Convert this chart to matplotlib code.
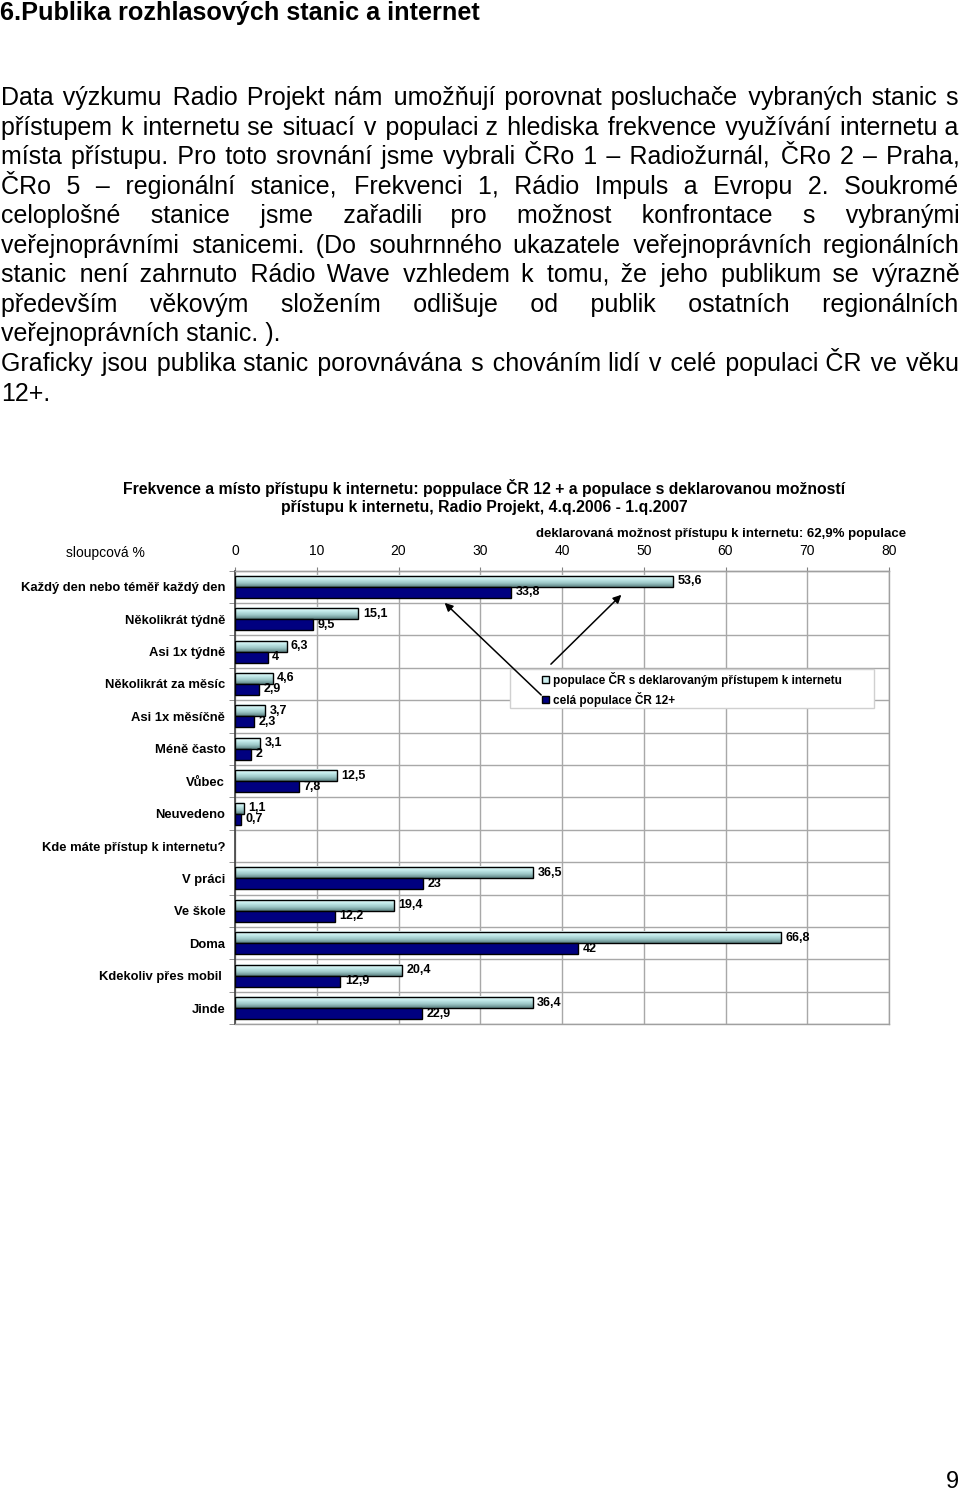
import numpy as np
import matplotlib
matplotlib.use('Agg')
import matplotlib.pyplot as plt
from matplotlib.colors import LinearSegmentedColormap
from matplotlib.patches import Rectangle, Patch

plt.rcParams['font.family'] = ['Liberation Sans', 'DejaVu Sans']

W, H = 960, 1493

# ---------------- data / texts ----------------
heading = "6.Publika rozhlasových stanic a internet"
paragraph_lines = [
    "Data výzkumu Radio Projekt nám umožňují porovnat posluchače  vybraných stanic s",
    "přístupem k internetu se situací v populaci z hlediska frekvence využívání internetu a",
    "místa přístupu. Pro toto srovnání jsme vybrali ČRo 1 – Radiožurnál, ČRo 2 – Praha,",
    "ČRo 5 – regionální stanice, Frekvenci 1, Rádio Impuls a Evropu 2. Soukromé",
    "celoplošné stanice jsme zařadili pro možnost konfrontace s\u00a0vybranými",
    "veřejnoprávními stanicemi. (Do souhrnného ukazatele veřejnoprávních regionálních",
    "stanic není zahrnuto Rádio Wave vzhledem k tomu,  že jeho publikum se výrazně",
    "především věkovým složením odlišuje od publik ostatních  regionálních",
    "veřejnoprávních stanic. ).",
    "Graficky jsou publika stanic porovnávána s chováním lidí v celé populaci ČR ve věku",
    "12+.",
]
justified = [True, True, True, True, True, True, True, True, False, True, False]

chart_title = ["Frekvence a místo přístupu k internetu: poppulace ČR 12 + a populace s deklarovanou možností",
               "přístupu k internetu, Radio Projekt, 4.q.2006 - 1.q.2007"]
subtitle = "deklarovaná možnost přístupu k internetu: 62,9% populace"
axis_caption = "sloupcová %"
x_ticks = [0, 10, 20, 30, 40, 50, 60, 70, 80]

freq_categories = ["Každý den nebo téměř každý den", "Několikrát týdně", "Asi 1x týdně",
                   "Několikrát za měsíc", "Asi 1x měsíčně", "Méně často", "Vůbec", "Neuvedeno"]
freq_internet = [53.6, 15.1, 6.3, 4.6, 3.7, 3.1, 12.5, 1.1]
freq_all = [33.8, 9.5, 4, 2.9, 2.3, 2, 7.8, 0.7]

access_header = "Kde máte přístup k internetu?"
access_categories = ["V práci", "Ve škole", "Doma", "Kdekoliv přes mobil ", "Jinde"]
access_internet = [36.5, 19.4, 66.8, 20.4, 36.4]
access_all = [23, 12.2, 42, 12.9, 22.9]

series_names = ["populace ČR s deklarovaným přístupem k internetu", "celá populace ČR 12+"]
page_number = "9"

# ---------------- figure ----------------
fig = plt.figure(figsize=(W / 100, H / 100), dpi=100)
fig.patch.set_facecolor('white')
renderer = fig.canvas.get_renderer()


def fx(px):
    return px / W


def fy(py):
    return 1 - py / H


def text_width(s, fs):
    t = fig.text(0, 0, s, fontsize=fs)
    w = t.get_window_extent(renderer).width
    t.remove()
    return w


# heading
fig.text(fx(0), fy(20), heading, fontsize=18.2, fontweight='bold', ha='left', va='baseline')

# paragraph (justified by padding the gaps with hair spaces, one text per line)
para_fs = 18
x_left, x_right = 1, 959
HAIR = '\u200a'
hair_w = (text_width('x' + HAIR * 40 + 'x', para_fs) - text_width('xx', para_fs)) / 40
for i, (line, just) in enumerate(zip(paragraph_lines, justified)):
    yb = 105 + 29.55 * i
    if just:
        words = line.split()
        base = ' '.join(words)
        extra = (x_right - x_left) - text_width(base, para_fs)
        ngaps = len(words) - 1
        out = words[0]
        used = 0
        for k in range(ngaps):
            target = int(round(extra * (k + 1) / ngaps / hair_w))
            n = max(target - used, 0)
            used += n
            out += ' ' + HAIR * n + words[k + 1]
        line = out
    fig.text(fx(x_left), fy(yb), line, fontsize=para_fs, ha='left', va='baseline')

# chart title
fig.text(fx(484), fy(488), chart_title[0], fontsize=11.3, fontweight='bold', ha='center', va='center')
fig.text(fx(484), fy(507), chart_title[1], fontsize=11.3, fontweight='bold', ha='center', va='center')
fig.text(fx(906), fy(534), subtitle, fontsize=9.5, fontweight='bold', ha='right', va='center')
fig.text(fx(105), fy(553), axis_caption, fontsize=10, ha='center', va='center')

# axes
ax_left, ax_right, ax_top, ax_bottom = 235, 889, 570.5, 1024.3
ax = fig.add_axes([fx(ax_left), fy(ax_bottom), (ax_right - ax_left) / W, (ax_bottom - ax_top) / H])

categories = freq_categories + [access_header] + access_categories
pos = np.concatenate([np.arange(len(freq_categories)),
                      np.arange(len(freq_categories) + 1, len(categories))])
light_vals = np.array(freq_internet + access_internet, dtype=float)
dark_vals = np.array(freq_all + access_all, dtype=float)

h = 0.34
light_color = '#cdeff0'
dark_color = '#000080'
grad_cmap = LinearSegmentedColormap.from_list('g', ['#f2ffff', '#c4ecec', '#9cc6c6', '#5c8282'])

light_bars = ax.barh(pos - h / 2, light_vals, height=h, facecolor='none', edgecolor='black',
                     linewidth=1, zorder=3)
dark_bars = ax.barh(pos + h / 2, dark_vals, height=h, facecolor=dark_color, edgecolor='black',
                    linewidth=1, zorder=3)

grad = np.linspace(0, 1, 64).reshape(-1, 1)
for r in light_bars:
    x0, y0, w, hh = r.get_x(), r.get_y(), r.get_width(), r.get_height()
    ax.imshow(grad, extent=(x0, x0 + w, y0 + hh, y0), origin='upper', aspect='auto',
              cmap=grad_cmap, zorder=2, interpolation='bilinear')


def fmt(v):
    return f"{v:g}".replace('.', ',')


for r, v in zip(light_bars, light_vals):
    ax.text(v + 0.55, r.get_y() + r.get_height() / 2, fmt(v), ha='left', va='center',
            fontsize=9, fontweight='bold', zorder=5)
for r, v in zip(dark_bars, dark_vals):
    ax.text(v + 0.55, r.get_y() + r.get_height() / 2, fmt(v), ha='left', va='center',
            fontsize=9, fontweight='bold', zorder=5)

ax.set_xlim(0, 80)
ax.set_ylim(len(categories) - 0.5, -0.5)

ax.xaxis.tick_top()
ax.set_xticks(x_ticks)
ax.set_xticklabels([str(t) for t in x_ticks])
ax.tick_params(axis='x', which='major', labelsize=10, length=3, color='#808080', pad=6, direction='out')

ax.set_yticks(np.arange(len(categories)))
ax.set_yticklabels(categories, fontsize=9.4, fontweight='bold')
ax.set_yticks(np.arange(-0.5, len(categories), 1), minor=True)
ax.tick_params(axis='y', which='major', length=0, pad=7)
ax.tick_params(axis='y', which='minor', length=4, color='#808080', direction='out')

ax.set_axisbelow(True)
ax.grid(which='major', axis='x', color='#a8a8a8', linewidth=1)
ax.grid(which='minor', axis='y', color='#a8a8a8', linewidth=1)
ax.grid(which='major', axis='y', visible=False)

for side in ['top', 'right', 'bottom']:
    ax.spines[side].set_color('#a0a0a0')
    ax.spines[side].set_linewidth(1)
ax.spines['left'].set_color('#404040')
ax.spines['left'].set_linewidth(1.2)

# legend box
box = Rectangle((fx(510), fy(708)), (874 - 510) / W, (708 - 669) / H, transform=fig.transFigure,
                facecolor='white', edgecolor='#d0d0d0', linewidth=1, zorder=4, clip_on=False)
ax.add_patch(box)
handles = [Patch(facecolor=light_color, edgecolor='black', linewidth=1),
           Patch(facecolor=dark_color, edgecolor='black', linewidth=1)]
leg = ax.legend(handles, series_names, loc='upper left', bbox_to_anchor=(fx(531), fy(661)),
                bbox_transform=fig.transFigure, frameon=False,
                prop={'weight': 'bold', 'size': 8.5}, handlelength=0.6, handleheight=0.6,
                handletextpad=0.35, labelspacing=0.42, borderpad=0.4)
leg.set_zorder(5)

# arrows
ax.annotate('', xy=(47.5, 0.19), xytext=(38.4, 2.45),
            arrowprops=dict(arrowstyle='-|>', color='black', lw=1.1, mutation_scale=12),
            zorder=6, annotation_clip=False)
ax.annotate('', xy=(25.4, 0.44), xytext=(37.7, 3.4),
            arrowprops=dict(arrowstyle='-|>', color='black', lw=1.1, mutation_scale=12),
            zorder=6, annotation_clip=False)

# page number
fig.text(fx(959), fy(1488), page_number, fontsize=17, ha='right', va='baseline')

fig.savefig('out.png', dpi=100, facecolor='white')
